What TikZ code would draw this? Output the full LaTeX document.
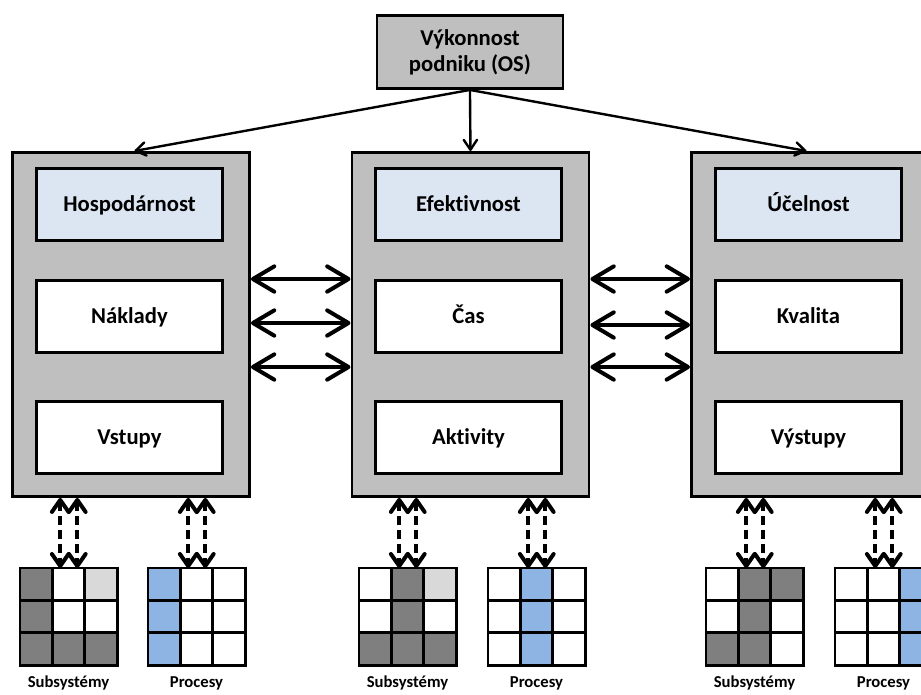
\documentclass[tikz,border=0pt]{standalone}
\usepackage{fontspec}
\setmainfont{Carlito}[Ligatures=NoCommon]
\usetikzlibrary{arrows.meta,calc}

\definecolor{boxgray}{HTML}{BFBFBF}
\definecolor{paleblue}{HTML}{DCE6F2}
\definecolor{cdark}{HTML}{7F7F7F}
\definecolor{clight}{HTML}{D9D9D9}
\definecolor{cblue}{HTML}{8EB4E3}

\tikzset{
  outerbox/.style={draw=black, fill=boxgray, line width=2.2pt, inner sep=0pt,
    minimum width=177.75pt, minimum height=258pt, anchor=north west},
  headbox/.style={draw=black, fill=paleblue, line width=2.2pt, inner sep=0pt,
    minimum width=139.5pt, minimum height=54pt, anchor=north west,
    text height=11pt, text depth=0pt,
    font=\fontsize{17}{20}\selectfont\bfseries},
  plainbox/.style={headbox, fill=white},
  topbox/.style={draw=black, fill=boxgray, line width=2.2pt, inner sep=0pt,
    minimum width=139.5pt, minimum height=54.75pt, anchor=north west, align=center,
    font=\fontsize{17}{19.5}\selectfont\bfseries},
  sidearrow/.style={line width=3pt,
    {Straight Barb[length=16pt,width=19pt,round]}-{Straight Barb[length=16pt,width=19pt,round]}},
  feedarrow/.style={line width=3pt, dash pattern=on 6.5pt off 4pt,
    {Straight Barb[length=9pt,width=12.5pt,round]}-{Straight Barb[length=9pt,width=12.5pt,round]}},
  toparrow/.style={line width=1.8pt, -{Straight Barb[length=7.5pt,width=10pt,round]}},
  gridbox/.style={inner sep=0pt, minimum width=72.75pt, minimum height=72.75pt, anchor=north west},
  gridline/.style={line width=2.2pt},
  lbl/.style={anchor=base, font=\fontsize{12.5}{14}\selectfont\bfseries},
}

% 3x3 cell matrix: name, x, y (top left), nine fill colours row by row
\newcommand\cellgrid[4]{%
  \node[gridbox] (#1) at (#2,#3) {};
  \foreach \c [count=\i from 0] in {#4} {
    \pgfmathtruncatemacro\cgx{mod(\i,3)}
    \pgfmathtruncatemacro\cgy{\i/3}
    \fill[\c] ($(#1.north west)+(\cgx*97/3,\cgy*97/3)$) rectangle ++(97/3,97/3);
  }
  \foreach \k in {1,2} {
    \draw[gridline] ($(#1.north west)+(\k*97/3,0)$) -- ++(0,97);
    \draw[gridline] ($(#1.north west)+(0,\k*97/3)$) -- ++(97,0);
  }
  \draw[gridline] (#1.north west) rectangle (#1.south east);
}

\begin{document}
\begin{tikzpicture}[x=0.75pt,y=-0.75pt]
\useasboundingbox (0,0) rectangle (921,694);
\clip (0,0) rectangle (921,694);

% top node
\node[topbox] (top) at (375.5,14) {Výkonnost\\podniku (OS)};

% three pillars
\node[outerbox] (L) at (11,151) {};
\node[outerbox] (M) at (350.5,151) {};
\node[outerbox] (R) at (690,151) {};

\node[headbox]  (L1) at (35,167)  {Hospodárnost};
\node[plainbox] (L2) at (35,279)  {Náklady};
\node[plainbox] (L3) at (35,400)  {Vstupy};

\node[headbox]  (M1) at (374,167) {Efektivnost};
\node[plainbox] (M2) at (374,279) {Čas};
\node[plainbox] (M3) at (374,400) {Aktivity};

\node[headbox]  (R1) at (714,167) {Účelnost};
\node[plainbox] (R2) at (714,279) {Kvalita};
\node[plainbox] (R3) at (714,400) {Výstupy};

% arrows from the top node
\draw[toparrow] (top.south) -- ([xshift=2.6pt]L.north);
\draw[toparrow] (top.south) -- (M.north);
\draw[toparrow] (top.south) -- ([xshift=-2.6pt]R.north);

% links between pillars
\draw[sidearrow] (L.east |- 0,279) -- (M.west |- 0,279);
\draw[sidearrow] (L.east |- 0,323) -- (M.west |- 0,323);
\draw[sidearrow] (L.east |- 0,367) -- (M.west |- 0,367);
\draw[sidearrow] (M.east |- 0,279) -- (R.west |- 0,279);
\draw[sidearrow] (M.east |- 0,325) -- (R.west |- 0,325);
\draw[sidearrow] (M.east |- 0,367) -- (R.west |- 0,367);

% subsystem and process matrices
\cellgrid{Ls}{20}{568}{cdark,white,clight,cdark,white,white,cdark,cdark,cdark}
\cellgrid{Lp}{148}{568}{cblue,white,white,cblue,white,white,cblue,white,white}
\cellgrid{Ms}{359}{568}{white,cdark,clight,white,cdark,white,cdark,cdark,cdark}
\cellgrid{Mp}{488}{568}{white,cblue,white,white,cblue,white,white,cblue,white}
\cellgrid{Rs}{706}{568}{white,cdark,cdark,white,cdark,white,cdark,cdark,white}
\cellgrid{Rp}{835}{568}{white,white,cblue,white,white,cblue,white,white,cblue}

% dashed feedback arrows, two per matrix
\foreach \g/\b in {Ls/L,Lp/L,Ms/M,Mp/M,Rs/R,Rp/R} {
  \coordinate (\g a) at ([xshift=-6.4pt]\g.north);
  \coordinate (\g b) at ([xshift=6.4pt]\g.north);
  \draw[feedarrow] (\g a |- \b.south) -- (\g a);
  \draw[feedarrow] (\g b |- \b.south) -- (\g b);
}

% captions
\node[lbl] (tLs) at (68.5,687)  {Subsystémy};
\node[lbl] (tLp) at (196.5,687) {Procesy};
\node[lbl] (tMs) at (407.5,687) {Subsystémy};
\node[lbl] (tMp) at (536.5,687) {Procesy};
\node[lbl] (tRs) at (754.5,687) {Subsystémy};
\node[lbl] (tRp) at (883.5,687) {Procesy};
\end{tikzpicture}
\end{document}
